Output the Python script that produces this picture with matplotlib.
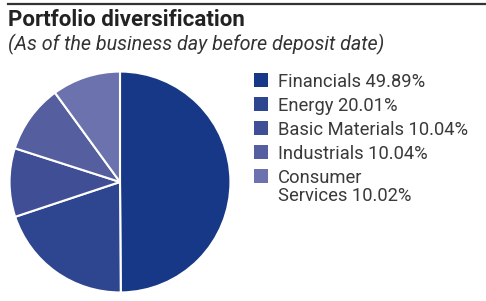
import matplotlib
matplotlib.use("Agg")
import matplotlib.pyplot as plt
from matplotlib.patches import Rectangle
from matplotlib.lines import Line2D

sectors = ["Financials", "Energy", "Basic Materials", "Industrials", "Consumer\nServices"]
weights = [49.89, 20.01, 10.04, 10.04, 10.02]
colors = ["#173887", "#2e4590", "#404e96", "#555e9e", "#6b72ae"]

W, H = 486, 301
fig = plt.figure(figsize=(W / 100, H / 100), dpi=100)
plt.rcParams['font.family'] = ['Roboto', 'DejaVu Sans']

# top rule
fig.add_artist(Line2D([8 / W, 1], [1 - 3.5 / H, 1 - 3.5 / H], color="#333333", lw=1.6))

fig.text(8 / W, 1 - 26 / H, "Portfolio diversification", fontsize=16,
         fontweight="bold", color="#222222", va="baseline")
fig.text(8 / W, 1 - 50 / H, "(As of the business day before deposit date)", fontsize=14.2,
         style="italic", color="#333333", va="baseline")

# pie
cx, cy, r = 120, 182, 111
ax = fig.add_axes([(cx - r) / W, (H - cy - r) / H, 2 * r / W, 2 * r / H])
ax.pie(weights, colors=colors, startangle=90, counterclock=False,
       wedgeprops=dict(edgecolor="white", linewidth=1.5))
ax.set_xlim(-1.005, 1.005)
ax.set_ylim(-1.005, 1.005)
ax.axis("off")

# legend
for i, (name, w, c) in enumerate(zip(sectors, weights, colors)):
    yc = 80 + 24 * i
    fig.add_artist(Rectangle((254 / W, 1 - (yc + 6.7) / H), 13.5 / W, 13.5 / H,
                             facecolor=c, edgecolor="none", transform=fig.transFigure))
    lines = f"{name} {w:.2f}%".split("\n")
    for j, line in enumerate(lines):
        fig.text(278 / W, 1 - (yc + 6.7 + 18.7 * j) / H, line, fontsize=13.2,
                 color="#3a3a3a", va="baseline")

fig.savefig("out.png", dpi=100)
